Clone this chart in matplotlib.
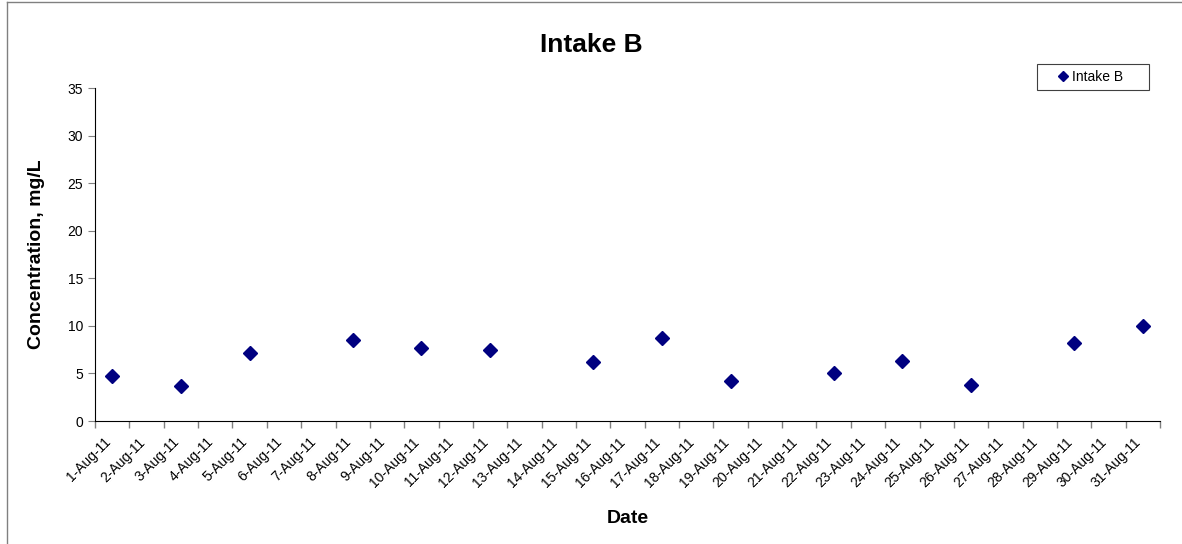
import numpy as np
import matplotlib
matplotlib.use("Agg")
import matplotlib.pyplot as plt
import matplotlib.transforms as mtransforms
from matplotlib.lines import Line2D
from matplotlib.patches import Rectangle

plt.rcParams["font.family"] = ["Liberation Sans", "DejaVu Sans"]

# --------------------------------------------------
# DATA
# --------------------------------------------------
date_labels = [f"{d}-Aug-11" for d in range(1, 32)]
sample_days = [1, 3, 5, 8, 10, 12, 15, 17, 19, 22, 24, 26, 29, 31]
concentration = [4.7, 3.7, 7.2, 8.5, 7.7, 7.5, 6.2, 8.7, 4.2, 5.0, 6.3, 3.75, 8.2, 10.0]

# --------------------------------------------------
# FIGURE
# --------------------------------------------------
fig = plt.figure(figsize=(11.82, 5.44), dpi=100)
ax = fig.add_axes([0.0804, 0.226, 0.901, 0.612])

x = np.array(sample_days) - 1
ax.plot(x, concentration, linestyle="none", marker="D", markersize=7,
        color="#000080", label="Intake B")

ax.set_xlim(-0.5, len(date_labels) - 0.5)
ax.set_ylim(0, 35)
ax.set_yticks(range(0, 36, 5))

# labels at category centres, tick marks between categories
ax.set_xticks(range(len(date_labels)))
ax.set_xticklabels(date_labels, rotation=45, ha="right", rotation_mode="anchor",
                   fontsize=10)
ax.tick_params(axis="x", which="major", length=0, pad=10)
shift = mtransforms.ScaledTranslation(-0.09, 0, fig.dpi_scale_trans)
for lab in ax.get_xticklabels():
    lab.set_transform(lab.get_transform() + shift)
ax.set_xticks(np.arange(-0.5, len(date_labels)), minor=True)
ax.tick_params(axis="x", which="minor", length=5, width=1, color="#808080")
ax.tick_params(axis="y", labelsize=10, length=5, color="#808080")

for s in ["top", "right"]:
    ax.spines[s].set_visible(False)
ax.spines["left"].set_color("black")
ax.spines["bottom"].set_color("black")

ax.set_xlabel("Date", fontsize=14, fontweight="bold", labelpad=14)
ax.set_ylabel("Concentration, mg/L", fontsize=14, fontweight="bold", labelpad=16)
fig.text(0.5, 0.917, "Intake B", ha="center", va="center", fontsize=19,
         fontweight="bold")

# legend (frame drawn separately for Excel-like padding)
leg = ax.legend(loc="center left", bbox_to_anchor=(1059 / 1182, 1 - 77 / 544),
                bbox_transform=fig.transFigure, fontsize=10, frameon=False,
                handlelength=0.6, handletextpad=0.34, borderpad=0,
                borderaxespad=0, markerscale=0.8)
fig.add_artist(Rectangle((1037 / 1182, 1 - 90 / 544), 112 / 1182, 26 / 544,
                         transform=fig.transFigure, fill=False,
                         edgecolor="#404040", lw=0.8))

# outer chart-area border
fig.add_artist(Line2D([0.006, 0.006], [0, 0.996], color="#808080", lw=1))
fig.add_artist(Line2D([0.006, 1.0], [0.996, 0.996], color="#808080", lw=1))

fig.savefig("out.png", dpi=100)
